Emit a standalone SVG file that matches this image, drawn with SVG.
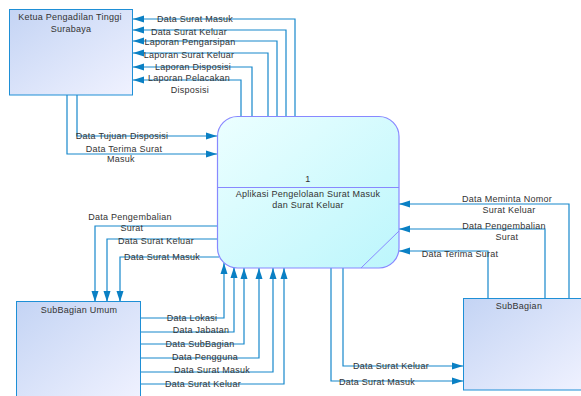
<svg xmlns="http://www.w3.org/2000/svg" width="581" height="396" viewBox="0 0 581 396">
<defs>
<linearGradient id="gExt" x1="0" y1="0" x2="1" y2="1">
<stop offset="0" stop-color="#c4d4f4"/>
<stop offset="1" stop-color="#f0f2ff"/>
</linearGradient>
<linearGradient id="gProc" x1="0" y1="0" x2="1" y2="1">
<stop offset="0" stop-color="#ecffff"/>
<stop offset="1" stop-color="#bcf6fc"/>
</linearGradient>
<marker id="arr" markerUnits="userSpaceOnUse" markerWidth="12" markerHeight="8" refX="11" refY="4" orient="auto">
<path d="M0,0.5 L11,4 L0,7.5 Z" fill="#0a80c4"/>
</marker>
<style>
text{font-family:"Liberation Sans",Arial,sans-serif;font-size:9px;letter-spacing:0.25px;fill:#333;text-anchor:middle}
.ext{fill:url(#gExt);stroke:#1e8fd6;stroke-width:1}
.proc{fill:url(#gProc);stroke:#8888ff;stroke-width:1.2}
.pl{stroke:#8888ff;stroke-width:1;fill:none}
.c{fill:none;stroke:#1788cc;stroke-width:1.2;marker-end:url(#arr)}
</style>
</defs>
<rect width="581" height="396" fill="#fff"/>
<g id="connectors">
<path class="c" d="M295,116 V19 H133"/>
<path class="c" d="M286,116 V30 H133"/>
<path class="c" d="M277,116 V41 H133"/>
<path class="c" d="M268,116 V53 H133"/>
<path class="c" d="M252,116 V67 H133"/>
<path class="c" d="M241,116 V80 H133"/>
<path class="c" d="M77,95 V136 H217"/>
<path class="c" d="M67,95 V154 H217"/>
<path class="c" d="M217,226 H95 V302"/>
<path class="c" d="M217,239 H107 V302"/>
<path class="c" d="M219,257 H120 V302"/>
<path class="c" d="M140,318 H224 V263"/>
<path class="c" d="M140,332 H234 V267"/>
<path class="c" d="M140,344 H244 V268"/>
<path class="c" d="M140,358 H259 V268"/>
<path class="c" d="M140,372 H273 V268"/>
<path class="c" d="M140,384 H284 V268"/>
<path class="c" d="M569,298 V204 H399"/>
<path class="c" d="M545,298 V229 H399"/>
<path class="c" d="M488,298 V251 H399"/>
<path class="c" d="M343,268 V366 H463"/>
<path class="c" d="M331,268 V381 H463"/>
<text x="195" y="21.5">Data Surat Masuk</text>
<text x="189" y="34.5">Data Surat Keluar</text>
<text x="190" y="44.5">Laporan Pengarsipan</text>
<text x="189" y="57.5">Laporan Surat Keluar</text>
<text x="193" y="70">Laporan Disposisi</text>
<text x="189" y="81.2">Laporan Pelacakan</text>
<text x="190" y="92.5">Disposisi</text>
<text x="122" y="139.2">Data Tujuan Disposisi</text>
<text x="124" y="152">Data Terima Surat</text>
<text x="121" y="162.2">Masuk</text>
<text x="130" y="220">Data Pengembalian</text>
<text x="132" y="231">Surat</text>
<text x="156" y="244.2">Data Surat Keluar</text>
<text x="162" y="260.2">Data Surat Masuk</text>
<text x="192" y="321">Data Lokasi</text>
<text x="201" y="333">Data Jabatan</text>
<text x="200" y="347.2">Data SubBagian</text>
<text x="205" y="360">Data Pengguna</text>
<text x="212" y="373.2">Data Surat Masuk</text>
<text x="203" y="387">Data Surat Keluar</text>
<text x="507" y="202.2">Data Meminta Nomor</text>
<text x="509" y="213.2">Surat Keluar</text>
<text x="504" y="229">Data Pengembalian</text>
<text x="507" y="240">Surat</text>
<text x="460" y="257.2">Data Terima Surat</text>
<text x="391" y="369">Data Surat Keluar</text>
<text x="377" y="385">Data Surat Masuk</text>
</g>
<g id="ketua">
<rect class="ext" x="9.5" y="9.5" width="123" height="85.5"/>
<text x="70" y="20">Ketua Pengadilan Tinggi</text>
<text x="71" y="31.5">Surabaya</text>
</g>
<g id="proses1">
<rect class="proc" x="217.5" y="116.5" width="181.5" height="151.5" rx="20" ry="20"/>
<line class="pl" x1="217.5" y1="187.5" x2="399" y2="187.5"/>
<line class="pl" x1="399" y1="231" x2="361" y2="268"/>
<text x="308" y="182">1</text>
<text x="308" y="197.2">Aplikasi Pengelolaan Surat Masuk</text>
<text x="308" y="208.2">dan Surat Keluar</text>
</g>
<g id="subbagian-umum">
<rect class="ext" x="16.5" y="301.5" width="124" height="100"/>
<text x="79" y="313.2">SubBagian Umum</text>
</g>
<g id="subbagian">
<rect class="ext" x="463.5" y="298.5" width="123" height="91.5"/>
<text x="519" y="309.2">SubBagian</text>
</g>
</svg>
